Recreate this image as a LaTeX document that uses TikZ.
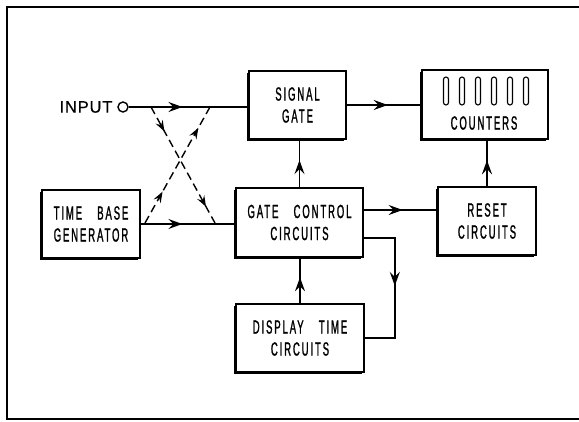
\documentclass[tikz,border=0pt]{standalone}
\usepackage{fontspec}
\usepackage{tikz}
\usetikzlibrary{arrows.meta, positioning, calc, shadows, decorations.markings}

\newfontfamily\blockfont{Liberation Sans}[FakeStretch=0.5, LetterSpace=10, FakeBold=1.2]
\newfontfamily\inputfont{Liberation Sans}[LetterSpace=5, FakeBold=0.6]
\newcommand{\blocktext}{\blockfont\fontsize{19}{22}\selectfont}
\newcommand{\wgap}{\hspace{0.8em}}

\begin{document}
\begin{tikzpicture}[x=1pt, y=-1pt,
  >={Stealth[length=14pt, width=10pt, inset=5pt]},
  box/.style={draw, line width=1.6pt, fill=white, inner sep=0pt, align=center,
              font=\blocktext,
              drop shadow={shadow xshift=-2pt, shadow yshift=-2pt, fill=black, opacity=1}},
  wire/.style={line width=1.8pt},
  arrow/.style={wire, postaction={decorate},
                decoration={markings, mark=at position #1 with {\arrow{>}}}},
  cross/.style 2 args={line width=1.4pt, dash pattern=on 8pt off 4.5pt, postaction={decorate},
                decoration={markings,
                  mark=at position #1 with {\arrow{Stealth[length=11pt, width=8pt, inset=4pt]}},
                  mark=at position #2 with {\arrow{Stealth[length=11pt, width=8pt, inset=4pt]}}}},
  tube/.style={draw, line width=1.1pt, rounded corners=2.5pt}
]
  \useasboundingbox (0,0) rectangle (579,421);

  % Frame
  \draw[line width=1.8pt] (579,7) -- (7,7) -- (7,419) -- (579,419);

  %--- Top row ---
  \node[font=\inputfont\fontsize{16.5}{18}\selectfont] (inlbl) at (86,107) {INPUT};
  \node[draw, circle, line width=1.4pt, minimum size=10pt, inner sep=0pt] (inpt) at (123,107) {};

  \node[box, minimum width=97pt, minimum height=68pt] (sg) at (297.5,105) {SIGNAL\\GATE};

  \node[box, minimum width=126pt, minimum height=69pt] (cnt) at (485,104.5) {};
  \foreach \i in {0,...,5}
    \draw[tube] (443.5+16*\i,77) rectangle ++(5,28);
  \node[font=\blocktext] (cntlbl) at (484,123) {COUNTERS};

  %--- Middle row ---
  \node[box, minimum width=98pt, minimum height=68pt] (tbg) at (91,224) {TIME\wgap BASE\\GENERATOR};
  \node[box, minimum width=127pt, minimum height=69pt] (gcc) at (299.5,222.5) {GATE\wgap CONTROL\\CIRCUITS};
  \node[box, minimum width=98pt, minimum height=68pt] (rst) at (487,221) {RESET\\CIRCUITS};

  %--- Bottom ---
  \node[box, minimum width=128pt, minimum height=68pt] (dtc) at (300,338) {DISPLAY\wgap TIME\\CIRCUITS};

  % Connections
  \draw[arrow=0.45] (inpt.east) -- (inpt.east -| sg.west);
  \draw[arrow=0.44] (tbg.east) -- (tbg.east -| gcc.west);
  \draw[arrow=0.55] (sg.east) -- (sg.east -| cnt.west);
  \draw[arrow=0.57] (gcc.north) -- (gcc.north |- sg.south);
  \draw[arrow=0.53] ([yshift=12.5pt]gcc.east) -- ([yshift=12.5pt]gcc.east -| rst.west);
  \draw[arrow=0.56] (rst.north) -- (rst.north |- cnt.south);
  \draw[arrow=0.57] (dtc.north) -- (dtc.north |- gcc.south);
  \draw[arrow=0.49] ([yshift=-15.5pt]gcc.east) -- ++(31,0) |- (dtc.east);

  % Crossed dashed paths
  \coordinate (inA) at (151,107);
  \coordinate (inB) at (210,107);
  \coordinate (tbA) at (145,223);
  \coordinate (tbB) at (215,223);
  \draw[cross={0.21}{0.86}] (inA) -- (tbB);
  \draw[cross={0.27}{0.82}] (tbA) -- (inB);

\end{tikzpicture}
\end{document}
